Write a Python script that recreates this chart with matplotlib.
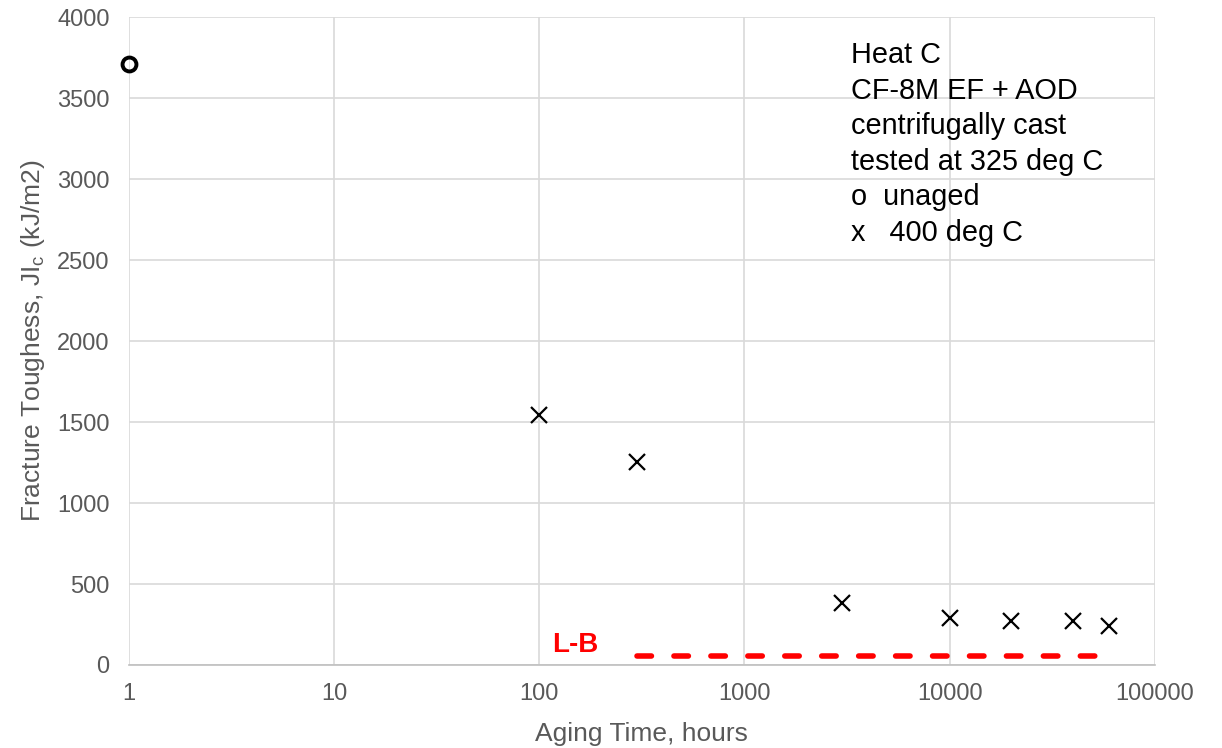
import numpy as np
import matplotlib.pyplot as plt
from matplotlib.ticker import FixedLocator, NullLocator

plt.rcParams['font.family'] = ['Liberation Sans', 'DejaVu Sans']

# unaged specimen
unaged_hours = [1]
unaged_jic = [3710]

# aged at 400 deg C
aged_hours = [100, 300, 3000, 10000, 20000, 40000, 60000]
aged_jic = [1545, 1255, 380, 290, 270, 270, 240]

# lower-bound line
lb_hours = [300, 60000]
lb_jic = [58, 58]

fig = plt.figure(figsize=(12.22, 7.48), dpi=100)
ax = fig.add_axes([0.1056, 0.111, 0.8394, 0.866])

ax.set_xscale('log')
ax.set_xlim(1, 100000)
ax.set_ylim(0, 4000)

ax.plot(unaged_hours, unaged_jic, 'o', ms=10, mfc='none', mec='black', mew=2.8,
        clip_on=False, zorder=5)
ax.plot(aged_hours, aged_jic, 'x', ms=11, color='black', mew=1.6, zorder=5)
ax.plot(lb_hours, lb_jic, color='red', lw=4, ls=(0, (2.6, 4.05)),
        solid_capstyle='round', dash_capstyle='round', zorder=4)
ax.text(149, 125, 'L-B', color='red', fontsize=20, fontweight='bold',
        ha='center', va='center')

ax.text(0.704, 0.963, 'Heat C\nCF-8M EF + AOD\ncentrifugally cast\ntested at 325 deg C\no  unaged\nx   400 deg C',
        transform=ax.transAxes, fontsize=20.8, va='top', ha='left',
        linespacing=1.34, color='black')

decades = [1, 10, 100, 1000, 10000, 100000]
ax.xaxis.set_major_locator(FixedLocator(decades))
ax.xaxis.set_minor_locator(NullLocator())
ax.set_xticklabels([str(d) for d in decades])
ax.set_yticks(np.arange(0, 4001, 500))

ax.grid(True, color='#d9d9d9', lw=1.2)
ax.set_axisbelow(True)
for side in ['left', 'right', 'top']:
    ax.spines[side].set_visible(False)
ax.spines['bottom'].set_color('#bfbfbf')
ax.spines['bottom'].set_linewidth(1.2)

ax.tick_params(axis='y', length=0, labelsize=17, labelcolor='#595959', pad=14)
ax.tick_params(axis='x', length=0, labelsize=17, labelcolor='#595959', pad=13)

ax.set_xlabel('Aging Time, hours', fontsize=19, color='#595959', labelpad=12)
ax.set_ylabel(r'Fracture Toughess, JI$_\mathregular{c}$ (kJ/m2)', fontsize=19,
              color='#595959', labelpad=7)

fig.savefig('out.png', dpi=100)
